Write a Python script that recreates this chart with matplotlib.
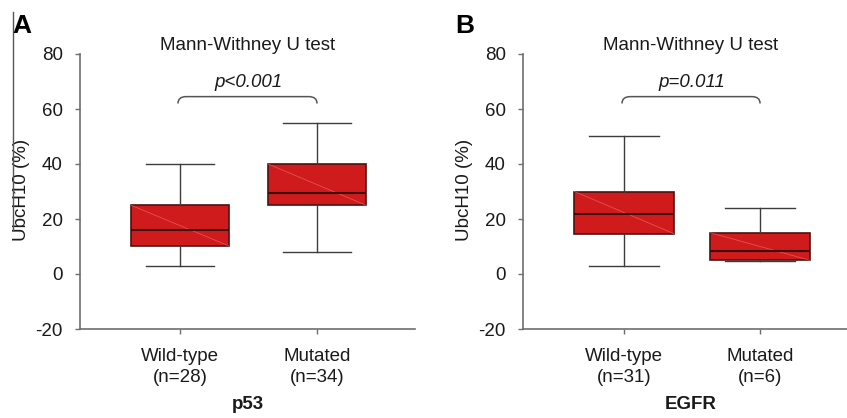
import matplotlib.pyplot as plt
from matplotlib.path import Path
from matplotlib.patches import PathPatch
from matplotlib.lines import Line2D

plt.rcParams['font.family'] = ['Liberation Sans', 'DejaVu Sans']
plt.rcParams['axes.unicode_minus'] = False

# --- data ---
p53_labels = ['Wild-type\n(n=28)', 'Mutated\n(n=34)']
p53_whislo = [3, 8]
p53_q1 = [10.2, 25]
p53_med = [16, 29.5]
p53_q3 = [25, 40]
p53_whishi = [40, 55]

egfr_labels = ['Wild-type\n(n=31)', 'Mutated\n(n=6)']
egfr_whislo = [3, 4.6]
egfr_q1 = [14.7, 5]
egfr_med = [22, 8.5]
egfr_q3 = [30, 15]
egfr_whishi = [50, 24]

BOX_RED = '#d01b1d'
BOX_EDGE = '#4d1212'
AXIS_GRAY = '#6e6e6e'
TEXT = '#1a1a1a'


def bracket(ax, x1, x2, y_top, y_end, r=0.06):
    verts = [(x1, y_end), (x1, y_top), (x1 + r, y_top),
             (x2 - r, y_top),
             (x2, y_top), (x2, y_end)]
    codes = [Path.MOVETO, Path.CURVE3, Path.CURVE3,
             Path.LINETO,
             Path.CURVE3, Path.CURVE3]
    ax.add_patch(PathPatch(Path(verts, codes), fill=False, edgecolor='#555555', lw=1.1))


def draw_panel(ax, labels, whislo, q1, med, q3, whishi, p_text, gene, xlim, box_w, cap_w):
    stats = []
    for lab, lo, a, m, b, hi in zip(labels, whislo, q1, med, q3, whishi):
        stats.append(dict(label=lab, whislo=lo, q1=a, med=m, q3=b, whishi=hi, fliers=[]))
    pos = [1, 2]
    ax.bxp(stats, positions=pos, widths=box_w, capwidths=cap_w, patch_artist=True,
           showfliers=False,
           boxprops=dict(facecolor=BOX_RED, edgecolor=BOX_EDGE, lw=1.2),
           medianprops=dict(color='#3a0c0c', lw=1.5, zorder=3),
           whiskerprops=dict(color='#3c3c3c', lw=1.0),
           capprops=dict(color='#3c3c3c', lw=1.0))
    # faint sheen across each box
    for p, a, b in zip(pos, q1, q3):
        ax.plot([p - box_w / 2, p + box_w / 2], [b, a], color='#e86a6a', lw=0.6,
                alpha=0.7, zorder=2.5)

    ax.set_xlim(*xlim)
    ax.set_ylim(-20, 80)
    ax.set_yticks([-20, 0, 20, 40, 60, 80])
    for side in ['top', 'right']:
        ax.spines[side].set_visible(False)
    for side in ['left', 'bottom']:
        ax.spines[side].set_color(AXIS_GRAY)
        ax.spines[side].set_linewidth(1.2)
    ax.tick_params(axis='both', colors=AXIS_GRAY, labelcolor=TEXT, labelsize=13.5,
                   length=3.5, width=1)
    ax.tick_params(axis='x', pad=10)
    ax.tick_params(axis='y', pad=9)
    for t in ax.get_xticklabels():
        t.set_linespacing(1.35)

    ax.set_ylabel('UbcH10 (%)', fontsize=13.5, color=TEXT)
    ax.yaxis.set_label_coords(-0.148, 0.505)
    ax.set_xlabel(gene, fontsize=13.5, fontweight='bold', color=TEXT, labelpad=7)
    ax.set_title('Mann-Withney U test', fontsize=13.5, color=TEXT, pad=1.5)

    bracket(ax, 0.985, 2.0, 64.5, 62)
    ax.text(1.5, 68, p_text, ha='center', va='baseline', fontsize=13.5,
            style='italic', color=TEXT)


fig = plt.figure(figsize=(8.47, 4.18), dpi=100)
ax_a = fig.add_axes([80 / 847, 89 / 418, 335 / 847, 275 / 418])
ax_b = fig.add_axes([523 / 847, 89 / 418, 335 / 847, 275 / 418])

draw_panel(ax_a, p53_labels, p53_whislo, p53_q1, p53_med, p53_q3, p53_whishi,
           'p<0.001', 'p53', (0.27, 2.715), 0.715, 0.49)
draw_panel(ax_b, egfr_labels, egfr_whislo, egfr_q1, egfr_med, egfr_q3, egfr_whishi,
           'p=0.011', 'EGFR', (0.257, 2.72), 0.73, 0.51)

fig.text(12 / 847, 1 - 26 / 418, 'A', fontsize=19, fontweight='bold', va='center', color='black')
fig.text(455 / 847, 1 - 26 / 418, 'B', fontsize=19, fontweight='bold', va='center', color='black')
fig.add_artist(Line2D([12.5 / 847, 12.5 / 847], [1 - 12 / 418, 1 - 230 / 418],
                      color='#555555', lw=1))

fig.savefig('out.png', dpi=100)
